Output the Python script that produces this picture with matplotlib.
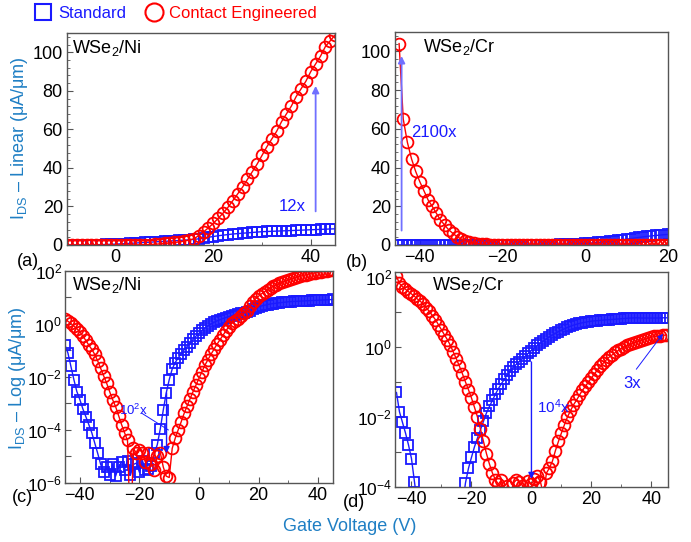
import numpy as np
import matplotlib
matplotlib.use('Agg')
import matplotlib.pyplot as plt
from matplotlib.lines import Line2D
from matplotlib.ticker import AutoMinorLocator, FixedLocator, FuncFormatter, NullLocator

plt.rcParams['font.family'] = ['Liberation Sans', 'DejaVu Sans']
plt.rcParams['mathtext.fontset'] = 'custom'
plt.rcParams['mathtext.rm'] = 'Liberation Sans'
plt.rcParams['mathtext.it'] = 'Liberation Sans:italic'
plt.rcParams['mathtext.bf'] = 'Liberation Sans:bold'

# gate sweep, -45 V to 45 V in 1 V steps
vg = np.arange(-45, 46)

# WSe2/Ni device (uA/um)
ni_std = [
    0.16, 0.08, 0.025, 7.9e-3, 2.8e-3, 1.4e-3, 6.3e-4, 3.2e-4, 1.6e-4, 7.9e-5,
    3.2e-5, 1.3e-5, 5e-6, 2.5e-6, 4e-6, 2e-6, 5e-6, 1.8e-6, 4e-6, 6.3e-6,
    3.2e-6, 7e-6, 2e-6, 5e-6, 5.6e-6, 2.5e-6, 7e-6, 3.2e-6, 3.5e-6, 4.5e-6,
    1.3e-5, 2.8e-5, 1.1e-4, 5.6e-4, 2.5e-3, 7.9e-3, 0.02, 0.035, 0.052, 0.076,
    0.105, 0.14, 0.19, 0.26, 0.35, 0.45, 0.58, 0.71, 0.85, 1.0,
    1.15, 1.3, 1.45, 1.6, 1.75, 1.9, 2.05, 2.2, 2.35, 2.5,
    2.7, 2.9, 3.2, 3.6, 4.0, 4.4, 4.8, 5.1, 5.4, 5.7,
    5.9, 6.1, 6.3, 6.5, 6.7, 6.9, 7.0, 7.1, 7.2, 7.3,
    7.4, 7.5, 7.6, 7.7, 7.8, 7.9, 8.0, 8.1, 8.2, 8.3,
    8.4]
ni_ce = [
    1.6, 1.26, 1.05, 0.83, 0.66, 0.51, 0.35, 0.24, 0.16, 0.11,
    0.071, 0.04, 0.021, 0.011, 5.8e-3, 2.8e-3, 1.4e-3, 7.6e-4, 3.5e-4, 1.6e-4,
    7.9e-5, 4e-5, 1e-8, 2e-5, 1.3e-5, 1.8e-5, 1.4e-5, 6e-6, 1.4e-5, 5e-6,
    3.2e-6, 1e-5, 1.4e-5, 4e-6, 1.8e-6, 1.6e-6, 2e-5, 4.8e-5, 1e-4, 2e-4,
    4.2e-4, 8e-4, 1.5e-3, 2.8e-3, 5e-3, 8.9e-3, 0.016, 0.028, 0.045, 0.071,
    0.11, 0.17, 0.25, 0.37, 0.54, 0.8, 1.05, 1.3, 1.6, 2.0,
    2.5, 3.2, 4.8, 6.8, 8.9, 11.2, 13.8, 16.5, 19.5, 23,
    26.5, 30, 34, 38, 42, 46.5, 51, 55, 59, 64,
    68, 72, 77, 81, 85, 90, 94, 98, 103, 106,
    109]

# WSe2/Cr device (uA/um)
cr_std = [
    0.05, 0.014, 7e-3, 3.5e-3, 1.6e-3, 6.5e-4, 1.4e-4, 3e-5, 1.2e-5, 8e-6,
    1e-5, 6e-6, 1.1e-5, 9e-6, 1e-5, 7e-6, 1.2e-5, 9e-6, 1e-5, 8e-6,
    1.1e-5, 1.5e-5, 3e-5, 1.3e-4, 3.4e-4, 7e-4, 1.4e-3, 2.5e-3, 4.3e-3, 7.5e-3,
    0.013, 0.02, 0.03, 0.045, 0.065, 0.09, 0.12, 0.16, 0.21, 0.27,
    0.32, 0.38, 0.46, 0.55, 0.66, 0.79, 0.93, 1.1, 1.29, 1.48,
    1.7, 1.95, 2.2, 2.45, 2.75, 3.0, 3.3, 3.6, 3.9, 4.2,
    4.45, 4.7, 4.9, 5.1, 5.3, 5.45, 5.55, 5.65, 5.75, 5.85,
    5.95, 6.0, 6.1, 6.2, 6.3, 6.4, 6.5, 6.6, 6.7, 6.75,
    6.8, 6.75, 6.7, 6.7, 6.7, 6.7, 6.7, 6.7, 6.75, 6.8,
    6.8]
cr_ce = [
    104, 65, 53, 44.5, 38, 32.7, 28, 23.3, 20, 16.4,
    12.9, 10.3, 7.8, 6, 4.3, 3.1, 2.2, 1.6, 1.1, 0.7,
    0.45, 0.28, 0.17, 0.1, 0.06, 0.035, 0.019, 0.01, 4.5e-3, 2e-3,
    9e-4, 4.5e-4, 2.5e-4, 1.6e-4, 1.2e-4, 1.6e-4, 5e-5, 1.1e-4, 6e-5, 1.3e-4,
    1.6e-4, 1.4e-4, 1.1e-4, 4e-5, 1.5e-4, 1.2e-4, 1.7e-4, 2e-4, 1.4e-4, 6e-5,
    2.5e-4, 3.5e-4, 5.5e-4, 1.1e-3, 2e-3, 3.5e-3, 6e-3, 0.01, 0.015, 0.022,
    0.03, 0.042, 0.058, 0.075, 0.1, 0.13, 0.17, 0.22, 0.28, 0.35,
    0.43, 0.52, 0.6, 0.7, 0.8, 0.9, 1.0, 1.1, 1.2, 1.3,
    1.4, 1.5, 1.6, 1.7, 1.8, 1.9, 2.0, 2.05, 2.1, 2.15,
    2.2]

blue = '#1a1aff'
red = '#ff0000'
lblue = '#1f7fc4'
spine_c = '#555555'

sq = dict(marker='s', ms=7.5, mfc='none', mec=blue, mew=1.3, color=blue, lw=1.0)
ci = dict(marker='o', ms=8.5, mfc='none', mec=red, mew=1.3, color=red, lw=1.0)


def style(ax, size=13):
    for s in ax.spines.values():
        s.set_color(spine_c)
        s.set_linewidth(1.0)
    ax.tick_params(which='both', direction='in', top=False, right=False,
                   colors=spine_c, labelcolor='black', labelsize=size, pad=3)
    ax.tick_params(which='major', length=4)
    ax.tick_params(which='minor', length=2)


def logfmt(v, pos):
    e = int(round(np.log10(v)))
    if e % 2:
        return ''
    return r'$\mathdefault{10^{%d}}$' % e


fig = plt.figure(figsize=(6.91, 5.42), dpi=100)

# (a) Ni linear
ax1 = fig.add_axes([0.097, 0.548, 0.388, 0.391])
ax1.plot(vg, ni_std, **sq)
ax1.plot(vg, ni_ce, **ci)
ax1.set_xlim(-10, 45)
ax1.set_ylim(0, 110)
ax1.set_xticks([0, 20, 40])
ax1.set_yticks([0, 20, 40, 60, 80, 100])
ax1.xaxis.set_minor_locator(AutoMinorLocator(2))
ax1.yaxis.set_minor_locator(AutoMinorLocator(5))
style(ax1)
ax1.text(0.02, 0.93, r'WSe$_2$/Ni', transform=ax1.transAxes, fontsize=13, va='center')
ax1.annotate('', xy=(41, 84), xytext=(41, 16),
             arrowprops=dict(arrowstyle='-|>', color='#7070ff', lw=1.3, mutation_scale=10))
ax1.text(36.1, 20, '12x', color=blue, fontsize=12, ha='center', va='center')

# (b) Cr linear
ax2 = fig.add_axes([0.5716, 0.548, 0.395, 0.393])
ax2.plot(vg, cr_std, **sq)
ax2.plot(vg, cr_ce, **ci)
ax2.set_xlim(-46, 20)
ax2.set_ylim(0, 110)
ax2.set_xticks([-40, -20, 0, 20])
ax2.set_yticks([0, 20, 40, 60, 80, 100])
ax2.xaxis.set_minor_locator(AutoMinorLocator(2))
ax2.yaxis.set_minor_locator(AutoMinorLocator(5))
style(ax2)
ax2.text(0.103, 0.93, r'WSe$_2$/Cr', transform=ax2.transAxes, fontsize=13, va='center')
ax2.annotate('', xy=(-44.4, 99), xytext=(-44.4, 6),
             arrowprops=dict(arrowstyle='-|>', color='#7070ff', lw=1.3, mutation_scale=10))
ax2.text(-42, 58, '2100x', color=blue, fontsize=12, ha='left', va='center')

# (c) Ni log
ax3 = fig.add_axes([0.094, 0.109, 0.388, 0.391])
ax3.plot(vg, ni_std, **sq)
ax3.plot(vg, ni_ce, **ci)
ax3.set_yscale('log')
ax3.set_xlim(-45, 45)
ax3.set_ylim(1e-6, 1e2)
ax3.set_xticks([-40, -20, 0, 20, 40])
ax3.xaxis.set_minor_locator(AutoMinorLocator(2))
ax3.yaxis.set_major_locator(FixedLocator(10.0 ** np.arange(-6, 3)))
ax3.yaxis.set_major_formatter(FuncFormatter(logfmt))
ax3.yaxis.set_minor_locator(NullLocator())
style(ax3)
ax3.tick_params(axis='y', labelsize=12.5, pad=2)
ax3.text(0.025, 0.934, r'WSe$_2$/Ni', transform=ax3.transAxes, fontsize=13, va='center')
ax3.annotate('', xy=(-10.9, 10 ** -4.98), xytext=(-10.9, 10 ** -2.49),
             arrowprops=dict(arrowstyle='-|>', color=blue, lw=1.0, mutation_scale=9))
ax3.plot([-19.2, -10.3], [10 ** -3.37, 10 ** -4.0], color=blue, lw=0.7)
ax3.text(-21.9, 10 ** -3.25, r'10$^2$x', color=blue, fontsize=9.5, ha='center', va='center')

# (d) Cr log
ax4 = fig.add_axes([0.5716, 0.1015, 0.395, 0.397])
ax4.plot(vg, cr_std, **sq)
ax4.plot(vg, cr_ce, **ci)
ax4.set_yscale('log')
ax4.set_xlim(-45.5, 45.5)
ax4.set_ylim(1e-4, 1.4e2)
ax4.set_xticks([-40, -20, 0, 20, 40])
ax4.xaxis.set_minor_locator(AutoMinorLocator(2))
ax4.yaxis.set_major_locator(FixedLocator(10.0 ** np.arange(-4, 3)))
ax4.yaxis.set_major_formatter(FuncFormatter(logfmt))
ax4.yaxis.set_minor_locator(NullLocator())
style(ax4)
ax4.tick_params(axis='y', labelsize=12.5, pad=2)
ax4.text(0.134, 0.94, r'WSe$_2$/Cr', transform=ax4.transAxes, fontsize=13, va='center')
ax4.annotate('', xy=(0, 10 ** -3.85), xytext=(0, 10 ** -0.35),
             arrowprops=dict(arrowstyle='-|>', color=blue, lw=1.0, mutation_scale=9))
ax4.text(1.7, 10 ** -1.7, r'10$^4$x', color=blue, fontsize=11, ha='left', va='center')
ax4.annotate('', xy=(44.4, 10 ** 0.44), xytext=(34.4, 10 ** -0.7),
             arrowprops=dict(arrowstyle='-|>', color=blue, lw=0.7, mutation_scale=8))
ax4.text(33.6, 10 ** -1.04, '3x', color=blue, fontsize=12, ha='center', va='center')

# shared labels
fig.text(0.028, 0.746, r'I$_{\mathrm{DS}}$ – Linear (μA/μm)', rotation=90,
         color=lblue, fontsize=13, ha='center', va='center')
fig.text(0.025, 0.302, r'I$_{\mathrm{DS}}$ – Log (μA/μm)', rotation=90,
         color=lblue, fontsize=13, ha='center', va='center')
fig.text(0.506, 0.029, 'Gate Voltage (V)', color=lblue, fontsize=13, ha='center', va='center')

fig.text(0.040, 0.518, '(a)', fontsize=13, ha='center', va='center')
fig.text(0.517, 0.515, '(b)', fontsize=13, ha='center', va='center')
fig.text(0.033, 0.083, '(c)', fontsize=13, ha='center', va='center')
fig.text(0.513, 0.072, '(d)', fontsize=13, ha='center', va='center')

handles = [Line2D([], [], marker='s', ls='none', ms=12, mfc='none', mec=blue, mew=1.5),
           Line2D([], [], marker='o', ls='none', ms=13, mfc='none', mec=red, mew=1.5)]
fig.legend(handles, ['Standard', 'Contact Engineered'], loc='center left',
           bbox_to_anchor=(0.05, 0.975), ncol=2, frameon=False, fontsize=12,
           handlelength=1.0, handletextpad=0.4, columnspacing=1.2,
           labelcolor=[blue, red], borderpad=0, borderaxespad=0)

fig.savefig('out.png', dpi=100)
